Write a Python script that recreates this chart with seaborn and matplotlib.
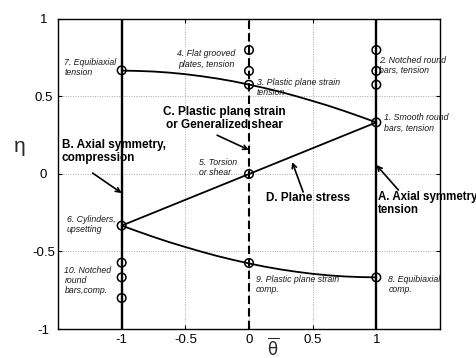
import matplotlib
matplotlib.use("Agg")
import matplotlib.pyplot as plt
import seaborn as sns
import pandas as pd

# Lode angle parameter grid and the two plane-stress branches
theta = [-1, -0.875, -0.75, -0.625, -0.5, -0.375, -0.25, -0.125, 0,
         0.125, 0.25, 0.375, 0.5, 0.625, 0.75, 0.875, 1]
eta_upper = [0.667, 0.665, 0.661, 0.654, 0.644, 0.631, 0.616, 0.598, 0.577,
             0.554, 0.529, 0.501, 0.471, 0.440, 0.406, 0.370, 0.333]
eta_lower = [-0.333, -0.370, -0.406, -0.440, -0.471, -0.501, -0.529, -0.554, -0.577,
             -0.598, -0.616, -0.631, -0.644, -0.654, -0.661, -0.665, -0.667]

# straight plane-stress segment through pure shear
theta_mid = [-1, 0, 1]
eta_mid = [-0.333, 0, 0.333]

# test specimens (open circles)
pts_theta = [-1, -1, -1, -1, -1,
             0, 0, 0, 0, 0,
             1, 1, 1, 1, 1]
pts_eta = [0.669, -0.333, -0.572, -0.667, -0.80,
           0.80, 0.665, 0.576, 0.0, -0.574,
           0.80, 0.665, 0.576, 0.333, -0.667]

xticks = [-1, -0.5, 0, 0.5, 1]
yticks = [-1, -0.5, 0, 0.5, 1]
xtick_labels = ["-1", "-0.5", "0", "0.5", "1"]
ytick_labels = ["-1", "-0.5", "0", "0.5", "1"]

sns.set_style("ticks")
plt.rcParams["font.family"] = ["Liberation Sans", "DejaVu Sans"]

fig = plt.figure(figsize=(4.77, 3.58), dpi=100)
ax = fig.add_axes([58 / 477, 1 - 329 / 358, (440 - 58) / 477, (329 - 19) / 358])

ax.set_xlim(-1.5, 1.5)
ax.set_ylim(-1, 1)
ax.set_xticks(xticks)
ax.set_xticklabels(xtick_labels)
ax.set_yticks(yticks)
ax.set_yticklabels(ytick_labels)
ax.grid(True, color="#a8a8a8", linestyle=(0, (1, 1.5)), linewidth=0.7)
ax.set_axisbelow(True)
ax.tick_params(direction="in", length=3, width=0.8, top=True, right=True,
               labelsize=9.5, colors="black")
ax.tick_params(axis="y", pad=10.5)
for lab in ax.get_yticklabels():
    lab.set_horizontalalignment("center")
for s in ax.spines.values():
    s.set_color("black")
    s.set_linewidth(1.0)

# loading-state boundaries
ax.axvline(-1, color="black", lw=1.7, zorder=2)
ax.axvline(1, color="black", lw=1.7, zorder=2)
ax.axvline(0, color="black", lw=1.5, ls=(0, (4, 2)), zorder=2)

df_up = pd.DataFrame({"theta": theta, "eta": eta_upper})
df_lo = pd.DataFrame({"theta": theta, "eta": eta_lower})
df_mid = pd.DataFrame({"theta": theta_mid, "eta": eta_mid})
for d in (df_up, df_lo, df_mid):
    sns.lineplot(data=d, x="theta", y="eta", ax=ax, color="black", lw=1.3,
                 sort=False, estimator=None, zorder=3)

df_pts = pd.DataFrame({"theta": pts_theta, "eta": pts_eta})
sns.scatterplot(data=df_pts, x="theta", y="eta", ax=ax, marker="o", s=38,
                facecolor="none", edgecolor="black", linewidth=1.1, zorder=4)

ax.set_xlabel("")
ax.set_ylabel("")

# specimen annotations
small = dict(fontsize=6.3, style="italic", color="#1a1a1a", va="center",
             linespacing=1.15)
ax.text(-1.449, 0.687, "7. Equibiaxial\ntension", ha="left", **small)
ax.text(-0.11, 0.742, "4. Flat grooved\nplates, tension", ha="right", **small)
ax.text(0.063, 0.555, "3. Plastic plane strain\ntension", ha="left", **small)
ax.text(1.024, 0.70, "2. Notched round\nbars, tension", ha="left", **small)
ax.text(1.063, 0.329, "1. Smooth round\nbars, tension", ha="left", **small)
ax.text(-0.39, 0.042, "5. Torsion\nor shear", ha="left", **small)
ax.text(-1.433, -0.323, "6. Cylinders,\nupsetting", ha="left", **small)
ax.text(-1.449, -0.69, "10. Notched\nround\nbars,comp.", ha="left", **small)
ax.text(0.055, -0.71, "9. Plastic plane strain\ncomp.", ha="left", **small)
ax.text(1.094, -0.71, "8. Equibiaxial\ncomp.", ha="left", **small)

# loading-state labels
big = dict(fontsize=8.5, fontweight="bold", color="black", va="center",
           linespacing=1.1)
ax.text(-0.19, 0.358, "C. Plastic plane strain\nor Generalized shear", ha="center", **big)
ax.text(-1.472, 0.145, "B. Axial symmetry,\ncompression", ha="left", **big)
ax.text(0.134, -0.155, "D. Plane stress", ha="left", **big)
ax.text(1.012, -0.19, "A. Axial symmetry\ntension", ha="left", clip_on=False,
        fontsize=8.3, fontweight="bold", color="black", va="center", linespacing=1.1)

arrow = dict(arrowstyle="->", color="black", lw=1.2, mutation_scale=8,
             shrinkA=0, shrinkB=0)
ax.annotate("", xy=(0.0, 0.155), xytext=(-0.25, 0.25), arrowprops=arrow)
ax.annotate("", xy=(-1.0, -0.123), xytext=(-1.228, 0.006), arrowprops=arrow)
ax.annotate("", xy=(0.339, 0.077), xytext=(0.425, -0.116), arrowprops=arrow)
ax.annotate("", xy=(1.0, 0.058), xytext=(1.173, -0.103), arrowprops=arrow)

# axis titles
fig.text(20 / 477, 1 - 147 / 358, "η", fontsize=15, ha="center", va="center")
fig.text(273 / 477, 1 - 347 / 358, r"$\overline{\mathrm{\theta}}$", fontsize=12,
         ha="center", va="center")

fig.savefig("out.png", dpi=100)
